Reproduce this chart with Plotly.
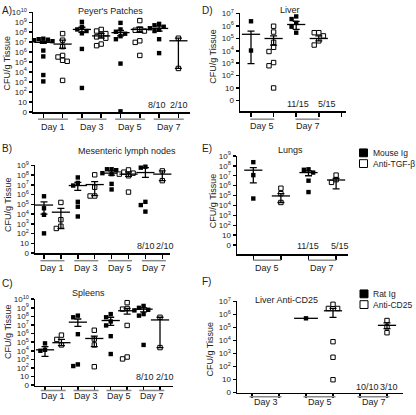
import plotly.graph_objects as go

W, H = 416, 415

# ---------------- data: log10(CFU/g tissue); 0 = none detected ----------------
# Panel A - Peyer's Patches (Mouse Ig vs Anti-TGF-beta), Day 1,3,5,7
A_mouse_pts = [[7.35, 7.3, 7.25, 7.2, 7.1, 7.0, 6.16, 5.57, 3.7, 3.06],
               [9.04, 8.55, 8.28, 8.12, 7.89, 6.32, 2.4],
               [8.94, 8.28, 8.05, 7.85, 7.6, 7.3, 4.85, 0.05],
               [8.84, 8.7, 8.55, 8.4, 8.25, 8.12, 7.3, 5.9]]
A_mouse_mean = [6.98, 8.28, 7.96, 8.38]
A_mouse_hi = [7.08, 8.5, 8.18, 8.61]
A_mouse_lo = [6.88, 8.0, 7.63, 8.12]
A_anti_pts = [[7.86, 7.2, 6.55, 5.67, 5.51, 5.18, 5.08, 3.16],
              [8.28, 8.12, 7.86, 7.73, 7.53, 7.4, 6.81, 6.65],
              [9.17, 8.3, 8.2, 8.12, 7.14, 6.98, 5.67],
              [7.4, 4.36]]
A_anti_mean = [6.81, 7.63, 8.28, 7.14]
A_anti_hi = [7.2, 7.86, 8.5, 7.4]
A_anti_lo = [6.39, 7.4, 8.0, 4.36]

# Panel B - Mesenteric lymph nodes
B_mouse_pts = [[5.83, 4.6, 3.93, 2.03],
               [7.76, 7.2, 6.93, 5.26, 4.76, 3.76],
               [8.6, 8.6, 8.5, 8.2, 8.1, 7.1, 6.53],
               [8.86, 8.76, 5.26, 4.93, 4.26]]
B_mouse_mean = [4.93, 6.93, 8.2, 8.26]
B_mouse_hi = [5.26, 7.26, 8.43, 8.76]
B_mouse_lo = [4.0, 6.43, 8.0, 7.76]
B_anti_pts = [[5.2, 3.43, 2.76, 2.53],
              [8.03, 6.76, 5.86, 5.86],
              [8.53, 8.3, 8.2, 8.1, 7.93, 6.26],
              [8.43, 7.43]]
B_anti_mean = [4.2, 7.03, 8.1, 8.1]
B_anti_hi = [4.6, 7.33, 8.33, 8.43]
B_anti_lo = [2.53, 5.9, 7.86, 7.43]

# Panel C - Spleens
C_mouse_pts = [[4.86, 4.11, 4.0],
               [8.09, 7.9, 5.93, 2.41, 2.22],
               [8.27, 7.9, 7.41, 6.95, 5.7, 3.62],
               [9.22, 9.0, 8.77, 8.7, 8.27, 8.09, 4.68]]
C_mouse_mean = [4.11, 7.33, 7.52, 8.84]
C_mouse_hi = [4.49, 7.7, 7.9, 9.0]
C_mouse_lo = [3.35, 6.84, 6.95, 8.54]
C_anti_pts = [[5.82, 5.32, 4.68],
              [6.39, 5.36, 4.68, 2.14],
              [9.6, 8.92, 8.85, 6.95, 3.27, 3.05],
              [7.9, 4.37]]
C_anti_mean = [4.94, 5.43, 8.66, 7.59]
C_anti_hi = [5.32, 5.7, 8.92, 7.9]
C_anti_lo = [4.6, 4.49, 8.27, 4.37]

# Panel D - Liver, Day 5 and 7
D_mouse_pts = [[6.38, 4.02], [6.77, 6.56, 6.25, 5.94, 5.46]]
D_mouse_mean = [5.33, 6.12]
D_mouse_hi = [5.59, 6.38]
D_mouse_lo = [2.97, 5.72]
D_anti_pts = [[5.98, 5.51, 4.68, 4.28, 3.94, 3.05, 2.79, 1.0],
              [5.46, 5.46, 5.2, 4.8, 4.46]]
D_anti_mean = [4.99, 4.99]
D_anti_hi = [5.2, 5.2]
D_anti_lo = [4.46, 4.8]

# Panel E - Lungs, Day 5 and 7
E_mouse_pts = [[8.37, 7.06, 4.7], [7.65, 7.6, 7.32, 6.5, 5.35]]
E_mouse_mean = [7.56, 7.32]
E_mouse_hi = [7.81, 7.49]
E_mouse_lo = [6.28, 7.0]
E_anti_pts = [[5.74, 5.19, 4.3], [7.06, 6.6, 6.33]]
E_anti_mean = [4.96, 6.57]
E_anti_hi = [5.19, 6.73]
E_anti_lo = [4.3, 5.68]

# Panel F - Liver Anti-CD25, Day 3,5,7
F_rat_pts = [[], [5.71], []]
F_rat_mean = [None, 5.71, None]
F_rat_hi = [None, 5.71, None]
F_rat_lo = [None, 5.71, None]
F_anti_pts = [[], [6.79, 6.47, 6.47, 3.91, 2.71, 0.98], [5.54, 5.05, 4.6]]
F_anti_mean = [None, 6.29, 5.17]
F_anti_hi = [None, 6.47, 5.36]
F_anti_lo = [None, 5.79, 4.91]

# labels
A_days = ["Day 1", "Day 3", "Day 5", "Day 7"]
D_days = ["Day 5", "Day 7"]
F_days = ["Day 3", "Day 5", "Day 7"]
A_frac = ["8/10", "2/10"]
D_frac = ["11/15", "5/15"]
F_frac = ["10/10", "3/10"]
titles = {"A": "Peyer's Patches", "B": "Mesenteric lymph nodes", "C": "Spleens",
          "D": "Liver", "E": "Lungs", "F": "Liver Anti-CD25"}
ytitle = "CFU/g Tissue"
legend_E = ["Mouse Ig", "Anti-TGF-\u03b2"]
legend_F = ["Rat Ig", "Anti-CD25"]

FONT = "Liberation Sans, Arial, sans-serif"
TXT = "#222222"


def px(x):
    return x / W


def py(y):
    return 1 - y / H


# geometry (pixel) for each panel
PANELS = {
    "A": dict(Pl=33, Pr=190, Pt=7, Pb=110, P0=109.5, s=10.2, x1=43.3, dx=19.3, nt=8, top=10,
              days=A_days, ol_y=117, lab_y=125, hw=15, frac=A_frac, frac_xy=[(157, 102), (179, 102)],
              title_xy=(110, 6), letter_xy=(0, 6), yt_xy=(7, 60)),
    "B": dict(Pl=35, Pr=170, Pt=164, Pb=254.5, P0=254.3, s=10.0, x1=44, dx=16.9, nt=8, top=9,
              days=A_days, ol_y=262, lab_y=269, hw=12, frac=A_frac, frac_xy=[(145.5, 247), (165, 247)],
              title_xy=(127, 150), letter_xy=(0, 147), yt_xy=(8, 205)),
    "C": dict(Pl=35, Pr=173, Pt=301, Pb=390, P0=389.5, s=8.8, x1=45, dx=16.43, nt=8, top=10,
              days=A_days, ol_y=395, lab_y=401, hw=12.5, frac=A_frac, frac_xy=[(145, 381), (165, 381)],
              title_xy=(88, 295), letter_xy=(0, 285), yt_xy=(8, 335)),
    "D": dict(Pl=240, Pr=346, Pt=8.5, Pb=109, P0=97.7, s=12.7, x1=251, dx=22.6, nt=5, top=7,
              days=D_days, ol_y=117, lab_y=124, hw=12, frac=D_frac, frac_xy=[(298, 101), (327, 101)],
              title_xy=(290, 5), letter_xy=(200, 6), yt_xy=(213, 52)),
    "E": dict(Pl=237, Pr=348, Pt=154.5, Pb=255.5, P0=246, s=10.15, x1=253.3, dx=27.6, nt=4, top=9,
              days=D_days, ol_y=261.5, lab_y=269, hw=14, frac=D_frac, frac_xy=[(308, 246.5), (340, 246.5)],
              title_xy=(290, 149), letter_xy=(200, 147), yt_xy=(213, 200)),
    "F": dict(Pl=237, Pr=403, Pt=303.5, Pb=397.5, P0=397, s=13.3, x1=252, dx=27.0, nt=6, top=7,
              days=F_days, ol_y=401.5, lab_y=407, hw=16, frac=F_frac, frac_xy=[(367, 391), (389, 391)],
              title_xy=(286, 302), letter_xy=(200, 283), yt_xy=(210, 353)),
}

DATA = {
    "A": [(A_mouse_pts, A_mouse_mean, A_mouse_hi, A_mouse_lo, True),
          (A_anti_pts, A_anti_mean, A_anti_hi, A_anti_lo, False)],
    "B": [(B_mouse_pts, B_mouse_mean, B_mouse_hi, B_mouse_lo, True),
          (B_anti_pts, B_anti_mean, B_anti_hi, B_anti_lo, False)],
    "C": [(C_mouse_pts, C_mouse_mean, C_mouse_hi, C_mouse_lo, True),
          (C_anti_pts, C_anti_mean, C_anti_hi, C_anti_lo, False)],
    "D": [(D_mouse_pts, D_mouse_mean, D_mouse_hi, D_mouse_lo, True),
          (D_anti_pts, D_anti_mean, D_anti_hi, D_anti_lo, False)],
    "E": [(E_mouse_pts, E_mouse_mean, E_mouse_hi, E_mouse_lo, True),
          (E_anti_pts, E_anti_mean, E_anti_hi, E_anti_lo, False)],
    "F": [(F_rat_pts, F_rat_mean, F_rat_hi, F_rat_lo, True),
          (F_anti_pts, F_anti_mean, F_anti_hi, F_anti_lo, False)],
}


def swarm(vals, s, msize=4.6, step=4.6):
    placed, offs = [], []
    cands = [0, -step, step, -2 * step, 2 * step, -3 * step, 3 * step]
    for v in vals:
        y = v * s
        for c in cands:
            if all(abs(c - ox) >= msize or abs(y - oy) >= msize for ox, oy in placed):
                break
        placed.append((c, y))
        offs.append(c)
    return offs


fig = go.Figure()
layout = dict(width=W, height=H, margin=dict(l=0, r=0, t=0, b=0),
              paper_bgcolor="white", plot_bgcolor="white", showlegend=False,
              font=dict(family=FONT, color=TXT, size=9))
annotations, shapes = [], []


def ann(x, y, text, size=9, xanchor="center", angle=0, xref="paper", yref="paper"):
    annotations.append(dict(x=x, y=y, xref=xref, yref=yref, text=text, showarrow=False,
                            xanchor=xanchor, yanchor="middle", textangle=angle,
                            font=dict(size=size, family=FONT, color=TXT)))


for i, key in enumerate(["A", "B", "C", "D", "E", "F"], start=1):
    c = PANELS[key]
    xn = "x" if i == 1 else f"x{i}"
    yn = "y" if i == 1 else f"y{i}"
    xa = "xaxis" if i == 1 else f"xaxis{i}"
    ya = "yaxis" if i == 1 else f"yaxis{i}"
    ymin = (c["P0"] - c["Pb"]) / c["s"]
    ymax = (c["P0"] - c["Pt"]) / c["s"]
    xmin = 1 + (c["Pl"] - c["x1"]) / c["dx"]
    xmax = 1 + (c["Pr"] - c["x1"]) / c["dx"]
    layout[xa] = dict(domain=[c["Pl"] / W, c["Pr"] / W], range=[xmin, xmax], anchor=yn,
                      showline=True, linecolor="black", linewidth=1.5, ticks="outside",
                      ticklen=4, tickwidth=1.5, tickcolor="black",
                      tickvals=list(range(1, c["nt"] + 1)), showticklabels=False,
                      showgrid=False, zeroline=False)
    tv = list(range(0, c["top"] + 1))
    tt = ["0", "10"] + [f"10<sup>{k}</sup>" for k in tv[2:]]
    layout[ya] = dict(domain=[1 - c["Pb"] / H, 1 - c["Pt"] / H], range=[ymin, ymax], anchor=xn,
                      showline=True, linecolor="black", linewidth=1.5, ticks="outside",
                      ticklen=3, tickwidth=1.5, tickcolor="black", tickvals=tv, ticktext=tt,
                      tickfont=dict(size=8, family=FONT, color=TXT),
                      showgrid=False, zeroline=False)

    ng = len(c["days"])
    for gi, (pts, mean, hi, lo, filled) in enumerate(DATA[key]):
        for d in range(ng):
            xpos = 1 + 2 * d + gi
            vals = pts[d]
            if vals:
                offs = swarm(vals, c["s"])
                fig.add_trace(go.Scatter(
                    x=[xpos + o / c["dx"] for o in offs], y=vals, xaxis=xn, yaxis=yn,
                    mode="markers", cliponaxis=False, hoverinfo="skip",
                    marker=dict(symbol="square", size=4.4,
                                color="black" if filled else "white",
                                line=dict(color="black", width=0 if filled else 1))))
            if mean[d] is not None:
                has_err = hi[d] != lo[d]
                wide = 17 if not has_err else 13
                fig.add_trace(go.Scatter(
                    x=[xpos], y=[mean[d]], xaxis=xn, yaxis=yn, mode="markers", cliponaxis=False,
                    hoverinfo="skip",
                    marker=dict(symbol="line-ew", size=wide, line=dict(color="black", width=1.3)),
                    error_y=dict(type="data", symmetric=False, array=[hi[d] - mean[d]],
                                 arrayminus=[mean[d] - lo[d]], thickness=1.3, width=3.5,
                                 color="black", visible=has_err)))
    for d, lab in enumerate(c["days"]):
        mid = 1.5 + 2 * d
        hwd = c["hw"] / c["dx"]
        shapes.append(dict(type="line", xref=xn, yref="paper", x0=mid - hwd, x1=mid + hwd,
                           y0=py(c["ol_y"]), y1=py(c["ol_y"]), line=dict(color="#8a8a8a", width=1.5)))
        annotations.append(dict(x=mid, y=py(c["lab_y"]), xref=xn, yref="paper", text=lab,
                                showarrow=False, xanchor="center", yanchor="middle",
                                font=dict(size=9, family=FONT, color=TXT)))
    for t, (fx, fy) in zip(c["frac"], c["frac_xy"]):
        ann(px(fx), py(fy), t, size=9)
    ann(px(c["title_xy"][0]), py(c["title_xy"][1]), titles[key], size=9)
    ann(px(c["letter_xy"][0]), py(c["letter_xy"][1]), key + ")", size=10, xanchor="left")
    ann(px(c["yt_xy"][0]), py(c["yt_xy"][1]), ytitle, size=9, angle=-90)

for (lx, ly0, ly1, labels) in [(359.5, 147.5, 158.5, legend_E), (360, 292, 303, legend_F)]:
    for j, (yy, lab) in enumerate(zip([ly0, ly1], labels)):
        shapes.append(dict(type="rect", xref="paper", yref="paper",
                           x0=px(lx), x1=px(lx + 8), y0=py(yy + 8), y1=py(yy),
                           fillcolor="black" if j == 0 else "white",
                           line=dict(color="black", width=1)))
        ann(px(lx + 11), py(yy + 4), lab, size=8.5, xanchor="left")

layout["annotations"] = annotations
layout["shapes"] = shapes
fig.update_layout(**layout)
fig.write_html("out.html", config={"displayModeBar": False, "staticPlot": True},
               post_script="document.body.style.margin='0';document.body.style.overflow='hidden';")
